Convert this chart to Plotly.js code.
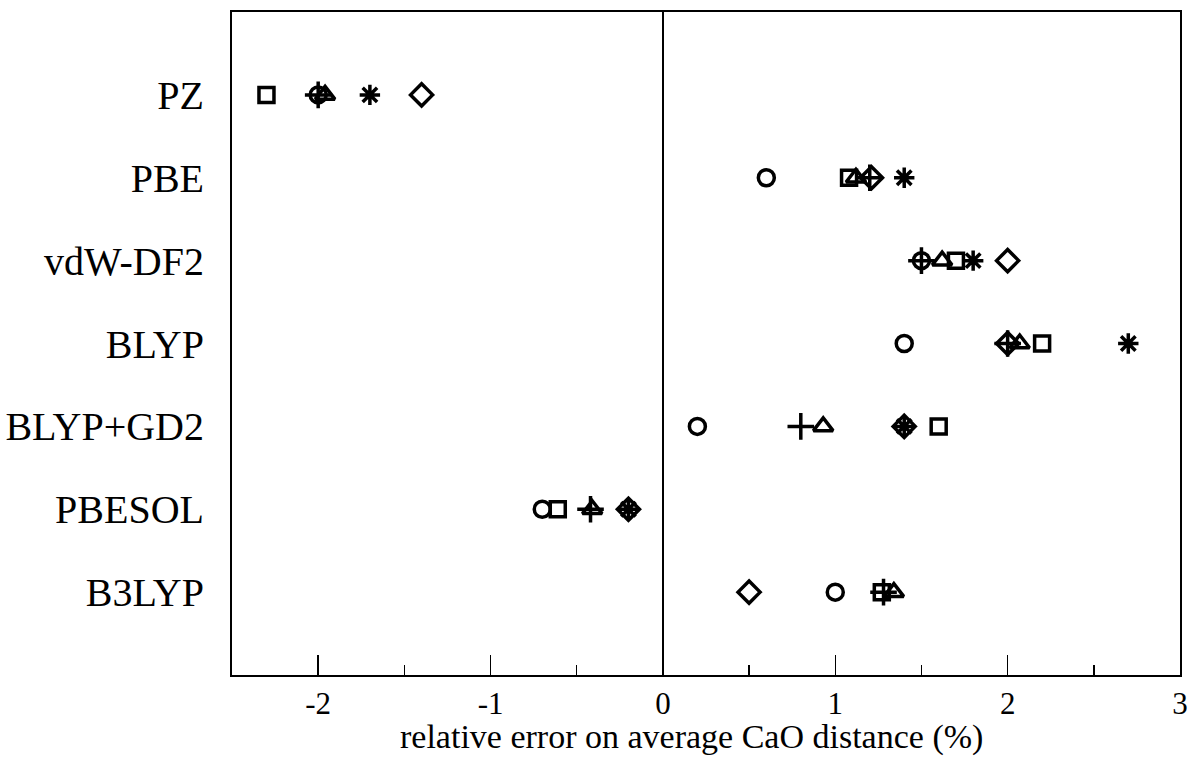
<!DOCTYPE html>
<html>
<head>
<meta charset="utf-8">
<script src="https://cdn.plot.ly/plotly-3.0.1.min.js"></script>
<style>html,body{margin:0;padding:0;background:#fff;}#chart{width:1192px;height:758px;}</style>
</head>
<body>
<div id="chart"></div>
<script>
const functionals = ["PZ", "PBE", "vdW-DF2", "BLYP", "BLYP+GD2", "PBESOL", "B3LYP"];
const tickVals = [-2, -1, 0, 1, 2, 3];
const tickText = ["-2", "-1", "0", "1", "2", "3"];
const xTitle = "relative error on average CaO distance (%)";

const squareVals   = [-2.30, 1.08, 1.70, 2.20, 1.60, -0.61, 1.27];
const circleVals   = [-2.00, 0.60, 1.50, 1.40, 0.20, -0.70, 1.00];
const plusVals     = [-2.00, 1.20, 1.50, 2.00, 0.80, -0.42, 1.28];
const triangleVals = [-1.96, 1.12, 1.62, 2.07, 0.93, -0.41, 1.34];
const asteriskVals = [-1.70, 1.40, 1.80, 2.70, 1.40, -0.20, null];
const diamondVals  = [-1.40, 1.21, 2.00, 2.00, 1.40, -0.20, 0.50];

function series(name, vals, symbol, size) {
  return {
    type: "scatter", mode: "markers", name: name,
    x: vals, y: functionals,
    marker: {symbol: symbol, size: size, color: "#000",
             line: {color: "#000", width: 3.5}},
    hoverinfo: "x+y"
  };
}

const data = [
  series("square", squareVals, "square-open", 15),
  series("circle", circleVals, "circle-open", 16),
  series("plus", plusVals, "cross-thin-open", 19),
  series("triangle", triangleVals, "triangle-up-open", 17),
  series("asterisk", asteriskVals, "asterisk-open", 17),
  series("diamond", diamondVals, "diamond-open", 17)
];

const fam = "Liberation Serif, Times New Roman, serif";

const layout = {
  width: 1192, height: 758,
  margin: {l: 232, r: 12, t: 12, b: 83},
  paper_bgcolor: "#fff", plot_bgcolor: "#fff",
  showlegend: false,
  font: {family: fam, color: "#000"},
  xaxis: {
    range: [-2.5, 3],
    tickvals: tickVals, ticktext: tickText,
    ticks: "inside", ticklen: 20, tickwidth: 1.5, tickcolor: "#000",
    minor: {dtick: 0.5, tick0: 0, ticks: "inside", ticklen: 10, tickwidth: 1.5, tickcolor: "#000"},
    showgrid: false,
    zeroline: true, zerolinecolor: "#000", zerolinewidth: 1.2,
    showline: true, mirror: true, linecolor: "#000", linewidth: 2,
    tickfont: {family: fam, size: 31, color: "#000"},
    ticklabelstandoff: 0
  },
  yaxis: {
    type: "category",
    categoryorder: "array", categoryarray: functionals,
    range: [7, -1],
    showgrid: false, zeroline: false,
    ticks: "",
    showline: true, mirror: true, linecolor: "#000", linewidth: 2,
    tickfont: {family: fam, size: 40, color: "#000"},
    ticklabelstandoff: 18
  },
  annotations: [{
    text: xTitle, showarrow: false,
    xref: "paper", yref: "paper", x: 0.485, y: -0.1245,
    xanchor: "center", yanchor: "bottom",
    font: {family: fam, size: 34, color: "#000"}
  }]
};

Plotly.newPlot("chart", data, layout, {displayModeBar: false, staticPlot: true});
</script>
</body>
</html>
